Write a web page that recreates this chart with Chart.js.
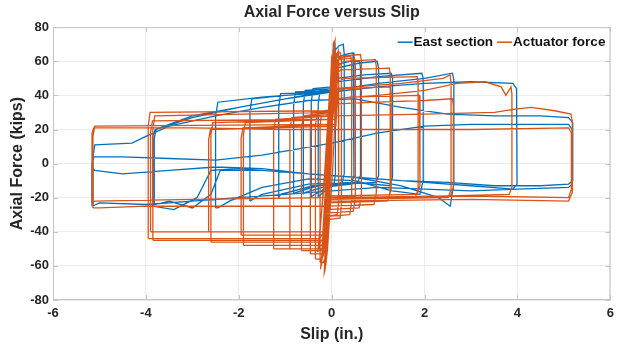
<!DOCTYPE html>
<html>
<head>
<meta charset="utf-8">
<script src="https://cdn.jsdelivr.net/npm/chart.js@4.4.1/dist/chart.umd.min.js"></script>
<style>
  html, body { margin: 0; padding: 0; background: #fff; }
</style>
</head>
<body>
<canvas id="grafico" width="620" height="349"></canvas>
<script>
// ---- dados (slip em in., força em kips) ----
const xTicks = [-6, -4, -2, 0, 2, 4, 6];
const yTicks = [-80, -60, -40, -20, 0, 20, 40, 60, 80];
const seriesNames = ['East section', 'Actuator force'];
const seriesColors = ['#0072BD', '#D95319'];

// cada ciclo = lista de vértices [slip, força]
const eastCycles = [
  [[-0.06,-15],[0.0,20],[0.03,60],[0.035,71],[0.05,68],[0.01,25],[-0.07,-14]],
  [[-0.29,-20],[-0.29,35],[-0.25,43],[-0.02,44],[0.04,66],[0.07,69],[0.08,64],[0.08,-6],[0.05,-12],[-0.1,-15],[-0.27,-19],[-0.29,-20]],
  [[-0.44,-20],[-0.44,36],[-0.4,44],[0.0,45],[0.06,66],[0.15,69],[0.25,70],[0.27,64],[0.27,-6],[0.22,-11],[-0.1,-14],[-0.42,-19],[-0.44,-20]],
  [[-0.61,-18],[-0.61,35],[-0.57,43],[0.0,44],[0.07,62],[0.3,64],[0.46,65],[0.48,60],[0.48,-7],[0.42,-12],[-0.2,-14],[-0.58,-17],[-0.61,-18]],
  [[-0.82,-18],[-0.82,34],[-0.78,42],[0.02,43],[0.08,58],[0.4,60],[0.6,60],[0.62,56],[0.62,-7],[0.56,-11],[-0.3,-13],[-0.78,-17],[-0.82,-18]],
  [[-1.14,-20],[-1.14,33],[-1.1,41],[0.03,42],[0.1,56],[0.6,59],[0.98,60],[1.01,56],[1.01,-7],[0.95,-11],[-0.4,-13],[-1.1,-18],[-1.14,-20]],
  [[-1.76,-22],[-1.76,30],[-1.72,38],[-1.0,40],[0.05,42],[0.12,50],[0.7,52],[1.28,53],[1.31,50],[1.31,-8],[1.25,-13],[0.5,-11],[-0.5,-12],[-1.5,-18],[-1.7,-21],[-1.76,-22]],
  [[-2.5,-26],[-2.5,28],[-2.45,36],[-1.5,39],[0.0,42],[0.1,48],[1.0,51],[1.94,53],[1.97,50],[1.97,-10],[1.9,-18],[1.3,-16],[0.5,-10],[-0.5,-9],[-1.5,-14],[-2.2,-22],[-2.45,-26],[-2.5,-26]],
  [[-3.82,-23],[-3.82,15],[-3.78,20],[-3.0,27],[-2.0,33],[-1.0,38],[0.0,43],[1.0,47],[2.0,50],[2.6,53],[2.63,49],[2.63,-12],[2.55,-25],[2.3,-20],[1.5,-13],[0.5,-8],[-0.5,-6],[-1.5,-4],[-2.4,-4],[-2.6,-18],[-3.0,-26],[-3.5,-22],[-3.8,-24],[-3.82,-23]],
  [[-3.85,-25],[-3.85,16],[-3.8,20],[-3.0,28],[-2.0,33],[-1.0,38],[0.0,42],[1.0,45],[2.0,47],[3.0,48],[3.9,47],[3.98,44],[3.99,-12],[3.9,-15],[3.0,-13],[2.0,-11],[1.0,-9],[0.0,-7],[-1.0,-5],[-2.0,-3],[-2.6,-4],[-2.9,-20],[-3.4,-27],[-3.85,-25]],
  [[-5.14,-24],[-5.14,4],[-5.1,11],[-4.3,12],[-4.0,16],[-3.5,22],[-2.5,28],[-1.5,33],[-0.5,37],[0.5,38],[1.5,33],[2.5,29],[3.5,28],[4.5,28],[5.1,27],[5.19,24],[5.19,-10],[5.1,-12],[4.5,-13],[3.5,-13],[2.5,-11],[1.5,-10],[0.5,-8],[-0.5,-6],[-1.5,-3],[-2.5,-2],[-3.5,-4],[-4.5,-6],[-5.1,-4],[-5.14,-3]],
  [[-5.16,-25],[-5.16,0],[-5.12,4],[-4.5,4],[-3.5,3],[-2.5,2],[-1.5,5],[0.0,12],[1.0,18],[2.0,22],[3.0,23],[4.0,23],[5.1,23],[5.18,20],[5.18,-12],[5.1,-14],[4.0,-15],[3.0,-16],[2.0,-15],[1.0,-14],[0.0,-16],[-1.0,-18],[-2.0,-20],[-3.0,-22],[-4.0,-24],[-5.0,-23],[-5.16,-25]]
];

const actuatorCycles = [
  [[-0.1,-40],[0.0,20],[0.03,40],[0.02,42],[-0.06,0],[-0.11,-38],[-0.1,-40]],
  [[-0.14,-62],[-0.03,0],[0.07,72],[0.05,70],[-0.06,0],[-0.16,-64],[-0.14,-62]],
  [[-0.12,-58],[0.0,6],[0.04,68],[0.1,63],[0.1,44],[0.02,-4],[-0.09,-50],[-0.13,-60]],
  [[-0.2,-55],[-0.08,0],[0.02,60],[0.0,62],[-0.1,2],[-0.22,-58],[-0.2,-55]],
  [[-0.22,-60],[-0.1,-10],[0.0,45],[0.05,65],[0.03,66],[-0.08,10],[-0.2,-50],[-0.24,-62]],
  [[-0.18,-48],[-0.05,10],[0.06,55],[0.08,58],[-0.04,0],[-0.17,-50]],
  [[-0.28,-50],[-0.15,-5],[-0.05,40],[-0.02,45],[-0.12,0],[-0.3,-52]],
  [[-0.25,-58],[-0.25,22],[-0.22,30],[0.05,31],[0.1,62],[0.14,66],[0.15,62],[0.15,-22],[0.12,-30],[-0.1,-31],[-0.15,-56],[-0.18,-58],[-0.25,-58]],
  [[-0.35,-56],[-0.35,22],[-0.31,30],[0.02,31],[0.07,63],[0.12,65],[0.19,65],[0.21,61],[0.21,-24],[0.18,-32],[-0.14,-33],[-0.18,-54],[-0.22,-56],[-0.35,-56]],
  [[-0.46,-53],[-0.46,23],[-0.42,30],[0.07,32],[0.12,60],[0.2,62],[0.41,63],[0.43,59],[0.43,-22],[0.39,-30],[-0.09,-31],[-0.13,-50],[-0.18,-53],[-0.46,-53]],
  [[-0.65,-51],[-0.65,21],[-0.61,28],[0.0,30],[0.05,58],[0.15,61],[0.49,62],[0.51,58],[0.51,-20],[0.46,-28],[-0.15,-29],[-0.19,-49],[-0.24,-51],[-0.65,-51]],
  [[-0.9,-50],[-0.9,20],[-0.86,27],[0.04,29],[0.1,60],[0.2,63],[0.62,64],[0.64,60],[0.64,-19],[0.59,-26],[-0.1,-27],[-0.14,-48],[-0.2,-50],[-0.9,-50]],
  [[-1.25,-50],[-1.25,19],[-1.21,26],[0.07,28],[0.13,57],[0.25,60],[0.94,61],[0.96,57],[0.96,-17],[0.91,-24],[-0.07,-25],[-0.11,-47],[-0.17,-50],[-1.25,-50]],
  [[-1.9,-48],[-1.9,17],[-1.86,24],[0.02,26],[0.07,52],[0.2,55],[1.24,56],[1.26,52],[1.26,-16],[1.21,-22],[-0.1,-23],[-0.16,-45],[-0.22,-48],[-1.9,-48]],
  [[-1.95,-42],[-1.95,15],[-1.91,21],[0.08,23],[0.12,42],[0.3,44],[1.27,45],[1.28,41],[1.28,-15],[1.23,-20],[-0.03,-21],[-0.07,-39],[-0.12,-42],[-1.95,-42]],
  [[-2.6,-46],[-2.6,17],[-2.56,24],[0.0,26],[0.04,48],[0.3,50],[1.84,51],[1.86,47],[1.86,-15],[1.8,-20],[-0.13,-21],[-0.17,-43],[-0.24,-46],[-2.6,-46]],
  [[-2.65,-40],[-2.65,14],[-2.61,20],[0.09,22],[0.12,38],[0.4,39],[1.89,40],[1.9,36],[1.9,-13],[1.84,-18],[-0.03,-19],[-0.06,-37],[-0.12,-40],[-2.65,-40]],
  [[-3.85,-45],[-3.85,20],[-3.81,28],[0.03,30],[0.07,44],[0.5,45],[1.5,47],[2.4,50],[2.55,52],[2.57,47],[2.57,-15],[2.51,-20],[-0.08,-21],[-0.12,-42],[-0.2,-45],[-3.85,-45]],
  [[-3.9,-40],[-3.9,18],[-3.86,25],[0.08,26],[0.1,35],[1.0,36],[2.0,37],[2.6,38],[2.62,34],[2.62,-14],[2.56,-19],[-0.04,-20],[-0.07,-37],[-0.12,-40],[-3.9,-40]],
  [[-3.95,-44],[-3.95,22],[-3.91,30],[-0.01,31],[0.0,38],[1.0,40],[2.0,43],[2.7,47],[3.3,48],[3.65,45],[3.75,40],[3.86,45],[3.88,41],[3.88,-14],[3.82,-18],[2.5,-19],[1.0,-20],[-0.15,-21],[-0.19,-41],[-0.26,-44],[-3.95,-44]],
  [[-5.14,-26],[-5.14,16],[-5.1,22],[0.05,23],[0.07,28],[2.0,29],[3.5,30],[3.95,32],[4.3,33],[4.8,31],[5.15,29],[5.18,25],[5.18,-17],[5.1,-22],[3.0,-21],[0.0,-22],[-0.07,-22],[-0.09,-25],[-2.0,-25],[-4.0,-25],[-5.0,-26],[-5.14,-26]],
  [[-5.16,-23],[-5.16,18],[-5.12,21],[-3.0,21],[-1.0,20],[1.0,20],[3.0,20],[5.1,21],[5.16,18],[5.16,-15],[5.1,-20],[3.0,-19],[0.0,-20],[-3.0,-21],[-5.1,-22],[-5.16,-23]]
];

// junta os ciclos num só caminho, com quebra (null) entre eles
function montarPontos(ciclos) {
    let pontos = [];
    for (let i = 0; i < ciclos.length; i++) {
        for (let j = 0; j < ciclos[i].length; j++) {
            pontos.push({ x: ciclos[i][j][0], y: ciclos[i][j][1] });
        }
        pontos.push({ x: null, y: null });
    }
    return pontos;
}

const fonte = '"Liberation Sans", Arial, sans-serif';
const corTexto = '#262626';

// moldura da caixa + marcas de escala para dentro (estilo MATLAB)
const caixaPlugin = {
    id: 'caixa',
    beforeDatasetsDraw(chart) {
        const { ctx, chartArea: a, scales } = chart;
        ctx.save();
        ctx.strokeStyle = '#c4c4c4';
        ctx.lineWidth = 1;
        ctx.strokeRect(a.left + 0.5, a.top + 0.5, a.right - a.left - 1, a.bottom - a.top - 1);
        ctx.beginPath();
        for (let i = 0; i < xTicks.length; i++) {
            const px = Math.round(scales.x.getPixelForValue(xTicks[i])) + 0.5;
            ctx.moveTo(px, a.bottom); ctx.lineTo(px, a.bottom - 5);
            ctx.moveTo(px, a.top); ctx.lineTo(px, a.top + 5);
        }
        for (let i = 0; i < yTicks.length; i++) {
            const py = Math.round(scales.y.getPixelForValue(yTicks[i])) + 0.5;
            ctx.moveTo(a.left, py); ctx.lineTo(a.left + 5, py);
            ctx.moveTo(a.right, py); ctx.lineTo(a.right - 5, py);
        }
        ctx.stroke();
        ctx.restore();
    },
    // legenda em linha, dentro da área, canto superior direito
    afterDatasetsDraw(chart) {
        const { ctx, chartArea: a } = chart;
        ctx.save();
        ctx.font = 'bold 13.5px ' + fonte;
        ctx.textBaseline = 'middle';
        ctx.textAlign = 'left';
        const y = a.top + 15;
        let xFim = a.right - 5;
        for (let i = seriesNames.length - 1; i >= 0; i--) {
            const w = ctx.measureText(seriesNames[i]).width;
            const xTexto = xFim - w;
            ctx.fillStyle = '#111';
            ctx.fillText(seriesNames[i], xTexto, y);
            ctx.strokeStyle = seriesColors[i];
            ctx.lineWidth = 1.5;
            ctx.beginPath();
            ctx.moveTo(xTexto - 16, y);
            ctx.lineTo(xTexto - 1, y);
            ctx.stroke();
            xFim = xTexto - 20;
        }
        ctx.restore();
    }
};

new Chart(document.getElementById('grafico'), {
    type: 'line',
    data: {
        datasets: [{
            label: seriesNames[0],
            data: montarPontos(eastCycles),
            borderColor: seriesColors[0],
            backgroundColor: seriesColors[0],
            borderWidth: 1.3,
            pointRadius: 0,
            tension: 0,
            order: 2
        }, {
            label: seriesNames[1],
            data: montarPontos(actuatorCycles),
            borderColor: seriesColors[1],
            backgroundColor: seriesColors[1],
            borderWidth: 1.3,
            pointRadius: 0,
            tension: 0,
            order: 1
        }]
    },
    options: {
        responsive: false,
        animation: false,
        spanGaps: false,
        layout: { padding: { left: 0, right: 6, top: 0, bottom: 0 } },
        plugins: {
            title: {
                display: true,
                text: 'Axial Force versus Slip',
                fullSize: false,
                color: corTexto,
                font: { family: fonte, size: 16, weight: 'bold' },
                padding: { top: 3, bottom: 5 }
            },
            legend: { display: false },
            tooltip: { enabled: false }
        },
        scales: {
            x: {
                type: 'linear',
                min: -6,
                max: 6,
                afterBuildTicks: (s) => { s.ticks = xTicks.map(v => ({ value: v })); },
                afterFit: (s) => { s.height = 49; },
                ticks: {
                    color: corTexto,
                    padding: 6,
                    font: { family: fonte, size: 13, weight: 'bold' }
                },
                grid: { color: '#ececec', drawTicks: false },
                border: { display: false },
                title: {
                    display: true,
                    text: 'Slip (in.)',
                    color: corTexto,
                    font: { family: fonte, size: 16, weight: 'bold' },
                    padding: { top: 0, bottom: 5 }
                }
            },
            y: {
                type: 'linear',
                min: -80,
                max: 80,
                afterBuildTicks: (s) => { s.ticks = yTicks.map(v => ({ value: v })); },
                afterFit: (s) => { s.width = 53; },
                ticks: {
                    color: corTexto,
                    padding: 4,
                    font: { family: fonte, size: 13, weight: 'bold' }
                },
                grid: { color: '#ececec', drawTicks: false },
                border: { display: false },
                title: {
                    display: true,
                    text: 'Axial Force (kips)',
                    color: corTexto,
                    font: { family: fonte, size: 16, weight: 'bold' },
                    padding: { top: 8, bottom: 0 }
                }
            }
        }
    },
    plugins: [caixaPlugin]
});
</script>
</body>
</html>
